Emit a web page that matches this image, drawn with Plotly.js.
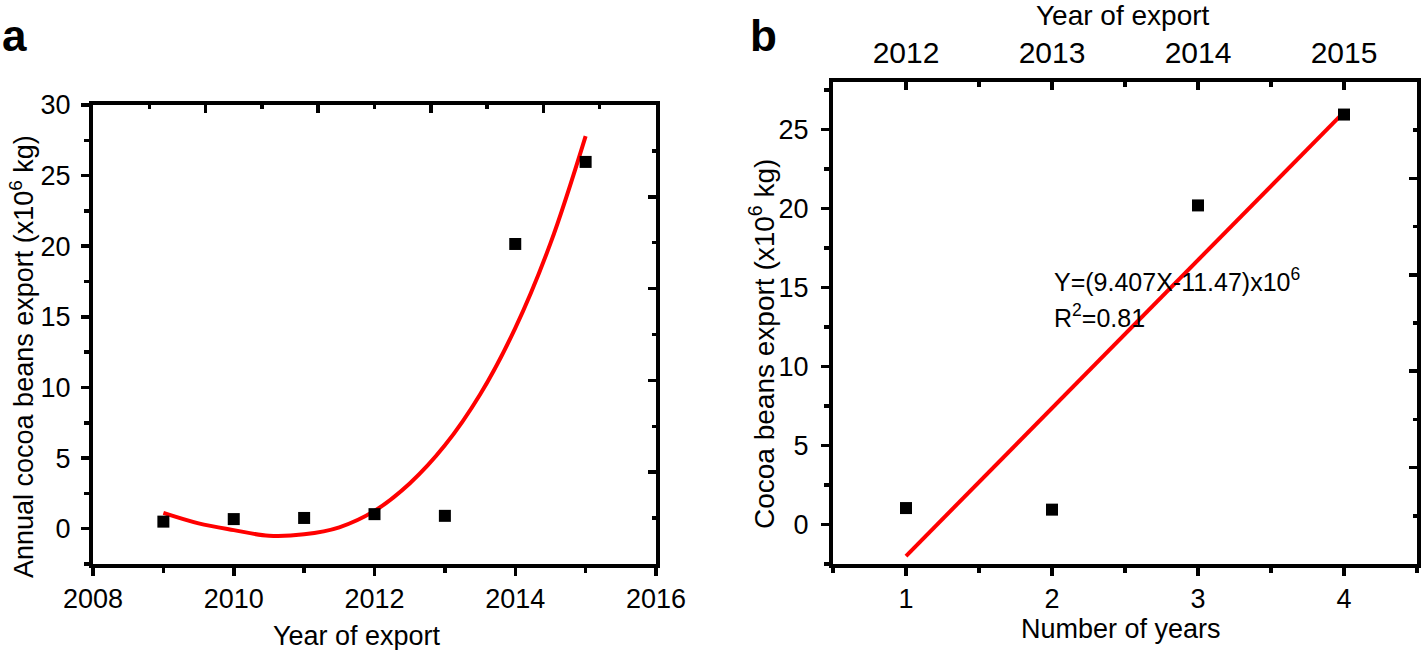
<!DOCTYPE html>
<html>
<head>
<meta charset="utf-8">
<script src="https://cdn.plot.ly/plotly-3.0.1.min.js"></script>
<style>html,body{margin:0;padding:0;background:#fff;}#chart{width:1422px;height:650px;}</style>
</head>
<body>
<div id="chart"></div>
<script>
// Panel a: annual export
const yearsA = [2009, 2010, 2011, 2012, 2013, 2014, 2015];
const exportA = [0.5, 0.68, 0.76, 1.03, 0.91, 20.16, 25.97];
// Panel a: fitted curve
const fitYearsA = [2009, 2009.5, 2010, 2010.5, 2011, 2011.5, 2012, 2012.5, 2013, 2013.5, 2014, 2014.5, 2015];
const fitValuesA = [1.12, 0.38, -0.1, -0.5, -0.4, 0.1, 1.26, 3.2, 5.9, 9.5, 14.2, 20.2, 27.8];
// Panel b: number of years vs export
const nYearsB = [1, 2, 3, 4];
const exportB = [1.04, 0.94, 20.19, 25.94];
const fitXB = [1, 4];
const fitYB = [-2.0, 26.1];
const topYearTicks = [2012, 2013, 2014, 2015];
const eqText = 'Y=(9.407X-11.47)x10<sup>6</sup>';
const r2Text = 'R<sup>2</sup>=0.81';

const FONT = 'Liberation Sans, Arial, sans-serif';
const LW = 4;

function baseAxis(extra) {
  return Object.assign({
    showgrid: false, zeroline: false, showline: true, linecolor: '#000', linewidth: LW,
    ticks: 'outside', ticklen: 8, tickwidth: 3.5, tickcolor: '#000',
    tickfont: {family: FONT, size: 27, color: '#000'},
    fixedrange: true
  }, extra);
}
function mirrorAxis(extra) {
  return Object.assign({
    showgrid: false, zeroline: false, showline: true, linecolor: '#000', linewidth: LW,
    ticks: 'inside', ticklen: 8, tickwidth: 3.5, tickcolor: '#000',
    showticklabels: false, range: [0, 10], dtick: 2, tick0: 0,
    minor: {ticks: 'inside', ticklen: 4, tickwidth: 3.5, tickcolor: '#000', dtick: 1, tick0: 0},
    fixedrange: true
  }, extra);
}
const minorOut = (d) => ({ticks: 'outside', ticklen: 5, tickwidth: 3.5, tickcolor: '#000', dtick: d});

const domAx = [93/1422, 656/1422];
const domAy = [(650-564)/650, (650-105)/650];
const domBx = [833/1422, 1417/1422];
const domBy = [(650-564)/650, (650-82)/650];

const traces = [
  {x: fitYearsA, y: fitValuesA, type: 'scatter', mode: 'lines', line: {color: '#ff0000', width: 4, shape: 'spline'}, xaxis: 'x', yaxis: 'y', hoverinfo: 'skip'},
  {x: yearsA, y: exportA, type: 'scatter', mode: 'markers', marker: {symbol: 'square', size: 12, color: '#000'}, xaxis: 'x', yaxis: 'y'},
  {x: fitXB, y: fitYB, type: 'scatter', mode: 'lines', line: {color: '#ff0000', width: 4}, xaxis: 'x3', yaxis: 'y3', hoverinfo: 'skip'},
  {x: nYearsB, y: exportB, type: 'scatter', mode: 'markers', marker: {symbol: 'square', size: 12, color: '#000'}, xaxis: 'x3', yaxis: 'y3'},
  // carriers for the mirrored (top/right) axes, no visible marks
  {x: [null], y: [null], type: 'scatter', mode: 'markers', xaxis: 'x2', yaxis: 'y2', hoverinfo: 'skip'},
  {x: [null], y: [null], type: 'scatter', mode: 'markers', xaxis: 'x4', yaxis: 'y4', hoverinfo: 'skip'}
];

const layout = {
  width: 1422, height: 650, autosize: false,
  margin: {l: 0, r: 0, t: 0, b: 0},
  paper_bgcolor: '#fff', plot_bgcolor: '#fff',
  showlegend: false,
  font: {family: FONT, size: 27, color: '#000'},
  xaxis: baseAxis({domain: domAx, anchor: 'y', range: [2008, 2016], dtick: 2, tick0: 2008, minor: minorOut(1)}),
  yaxis: baseAxis({domain: domAy, anchor: 'x', range: [-2.5, 30], dtick: 5, tick0: 0, minor: minorOut(2.5), ticklabelstandoff: 5}),
  xaxis2: mirrorAxis({overlaying: 'x', anchor: 'y2', side: 'top'}),
  yaxis2: mirrorAxis({overlaying: 'y', anchor: 'x2', side: 'right'}),
  xaxis3: baseAxis({domain: domBx, anchor: 'y3', range: [0.5, 4.5], dtick: 1, tick0: 1, minor: minorOut(0.5)}),
  yaxis3: baseAxis({domain: domBy, anchor: 'x3', range: [-2.5, 28], dtick: 5, tick0: 0, minor: minorOut(2.5), ticklabelstandoff: 7}),
  xaxis4: baseAxis({overlaying: 'x3', anchor: 'y4', side: 'top', range: [2011.5, 2015.5],
    tickvals: topYearTicks, ticktext: topYearTicks.map(String), ticks: 'inside', ticklabelstandoff: 3,
    tickfont: {family: FONT, size: 30, color: '#000'},
    minor: {ticks: 'inside', ticklen: 5, tickwidth: 3.5, tickcolor: '#000', dtick: 0.5, tick0: 2011.5}}),
  yaxis4: mirrorAxis({overlaying: 'y3', anchor: 'x4', side: 'right'}),
  annotations: [
    {text: '<b>a</b>', xref: 'paper', yref: 'paper', x: 0, y: (650-36)/650, xanchor: 'left', yanchor: 'middle', showarrow: false, font: {family: FONT, size: 44, color: '#000'}},
    {text: '<b>b</b>', xref: 'paper', yref: 'paper', x: 748/1422, y: (650-36)/650, xanchor: 'left', yanchor: 'middle', showarrow: false, font: {family: FONT, size: 44, color: '#000'}},
    {text: 'Year of export', xref: 'paper', yref: 'paper', x: 357/1422, y: (650-636)/650, xanchor: 'center', yanchor: 'middle', showarrow: false, font: {family: FONT, size: 27}},
    {text: 'Annual cocoa beans export (x10<sup>6</sup> kg)', xref: 'paper', yref: 'paper', x: 22/1422, y: (650-357)/650, xanchor: 'center', yanchor: 'middle', textangle: -90, showarrow: false, font: {family: FONT, size: 27}},
    {text: 'Number of years', xref: 'paper', yref: 'paper', x: 1121/1422, y: (650-629)/650, xanchor: 'center', yanchor: 'middle', showarrow: false, font: {family: FONT, size: 27}},
    {text: 'Year of export', xref: 'paper', yref: 'paper', x: 1123/1422, y: (650-15)/650, xanchor: 'center', yanchor: 'middle', showarrow: false, font: {family: FONT, size: 28}},
    {text: 'Cocoa beans export (x10<sup>6</sup> kg)', xref: 'paper', yref: 'paper', x: 762/1422, y: (650-344)/650, xanchor: 'center', yanchor: 'middle', textangle: -90, showarrow: false, font: {family: FONT, size: 28}},
    {text: eqText, xref: 'x3', yref: 'y3', x: 2.0, y: 15.5, xanchor: 'left', yanchor: 'middle', showarrow: false, font: {family: FONT, size: 25}},
    {text: r2Text, xref: 'x3', yref: 'y3', x: 2.0, y: 13.2, xanchor: 'left', yanchor: 'middle', showarrow: false, font: {family: FONT, size: 25}}
  ]
};

Plotly.newPlot('chart', traces, layout, {staticPlot: true, displayModeBar: false});
</script>
</body>
</html>
